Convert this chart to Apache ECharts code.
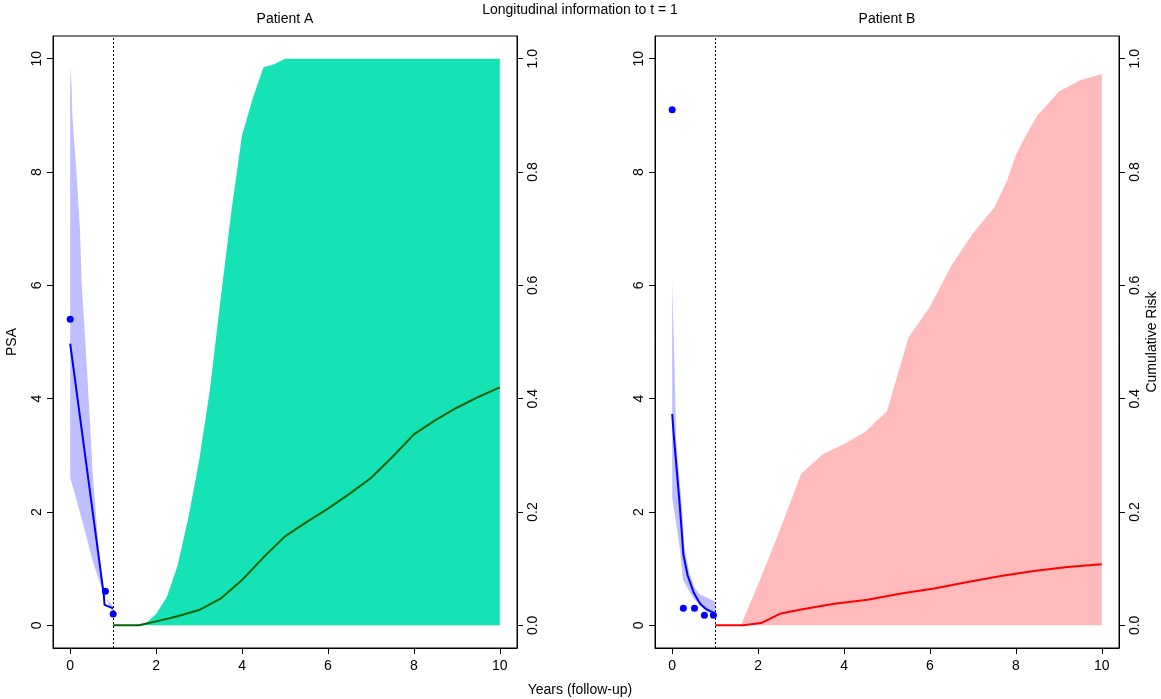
<!DOCTYPE html>
<html>
<head>
<meta charset="utf-8">
<script src="https://cdn.jsdelivr.net/npm/echarts@6/dist/echarts.min.js"></script>
<style>html,body{margin:0;padding:0;background:#fff}#c{width:1161px;height:699px}</style>
</head>
<body>
<div id="c"></div>
<script>
// ---------- Data ----------
const xTicks = [0, 2, 4, 6, 8, 10];
const psaTicks = [0, 2, 4, 6, 8, 10];
const riskTicks = [0, 0.2, 0.4, 0.6, 0.8, 1.0];

// Patient A – longitudinal (PSA)
const aObsT   = [0, 0.82, 1.0];
const aObsPSA = [5.4, 0.6, 0.2];
const aFitT   = [0, 0.39, 0.78, 0.8, 1.0];
const aFitPSA = [4.97, 2.76, 0.55, 0.36, 0.3];
const aUpT    = [0, 0.03, 0.05, 0.15, 0.23, 0.27, 0.36, 0.46, 0.52, 0.64, 0.75, 0.83, 1.0];
const aUpPSA  = [9.85, 9.57, 9.0, 7.95, 6.95, 6.0, 4.92, 3.58, 2.73, 1.56, 0.75, 0.48, 0.34];
const aLoT    = [0, 0.093, 0.29, 0.52, 0.75, 0.95, 1.0];
const aLoPSA  = [2.6, 2.36, 1.82, 1.15, 0.61, 0.28, 0.24];

// Patient A – cumulative risk
const aRiskT    = [1.0, 1.6, 2.0, 2.5, 3.0, 3.5, 4.0, 4.5, 5.0, 5.5, 6.0, 6.5, 7.0, 7.5, 8.0, 8.5, 9.0, 9.5, 10];
const aRisk     = [0, 0, 0.007, 0.016, 0.027, 0.047, 0.08, 0.12, 0.157, 0.182, 0.206, 0.232, 0.26, 0.297, 0.337, 0.362, 0.384, 0.403, 0.42];
const aRiskUpT  = [1.6, 1.8, 2.0, 2.25, 2.5, 2.75, 3.0, 3.25, 3.5, 3.75, 4.0, 4.25, 4.5, 4.75, 5.0, 10];
const aRiskUp   = [0, 0.006, 0.02, 0.05, 0.105, 0.19, 0.29, 0.415, 0.575, 0.73, 0.865, 0.93, 0.985, 0.99, 1.0, 1.0];
const aRiskLoT  = [1.6, 10];
const aRiskLo   = [0, 0];

// Patient B – longitudinal (PSA)
const bObsT   = [0, 0.26, 0.52, 0.75, 0.96];
const bObsPSA = [9.1, 0.3, 0.3, 0.18, 0.18];
const bFitT   = [0, 0.04, 0.09, 0.155, 0.21, 0.26, 0.36, 0.5, 0.65, 0.8, 1.0];
const bFitPSA = [3.73, 3.32, 2.88, 2.31, 1.78, 1.25, 0.88, 0.58, 0.38, 0.28, 0.21];
const bUpT    = [0, 0.016, 0.054, 0.093, 0.155, 0.23, 0.29, 0.4, 0.52, 0.64, 1.0];
const bUpPSA  = [6.07, 5.6, 4.6, 3.3, 2.7, 2.06, 1.35, 0.93, 0.67, 0.55, 0.42];
const bLoT    = [0, 0.093, 0.186, 0.25, 0.48, 0.71, 1.0];
const bLoPSA  = [2.25, 1.81, 1.3, 0.8, 0.49, 0.3, 0.14];

// Patient B – cumulative risk
const bRiskT    = [1.0, 1.65, 2.07, 2.53, 3.0, 3.77, 4.55, 5.33, 6.1, 6.88, 7.65, 8.42, 9.2, 10];
const bRisk     = [0, 0, 0.004, 0.021, 0.028, 0.038, 0.045, 0.056, 0.065, 0.0765, 0.087, 0.096, 0.103, 0.108];
const bRiskUpT  = [1.6, 2.0, 2.5, 3.0, 3.5, 4.0, 4.5, 5.0, 5.5, 6.0, 6.5, 7.0, 7.5, 7.8, 8.0, 8.2, 8.5, 8.75, 9.0, 9.5, 10];
const bRiskUp   = [0, 0.072, 0.167, 0.267, 0.302, 0.32, 0.342, 0.378, 0.508, 0.562, 0.635, 0.692, 0.738, 0.786, 0.83, 0.86, 0.9, 0.92, 0.942, 0.962, 0.973];
const bRiskLoT  = [1.6, 10];
const bRiskLo   = [0, 0];

const landmark = 1;

// ---------- Helpers ----------
const FONT = '"Liberation Sans", Arial, sans-serif';
const zip = (xs, ys) => xs.map((x, i) => [x, ys[i]]);

function band(xi, yi, upT, up, loT, lo, color) {
  const pts = zip(upT, up).concat(zip(loT, lo).reverse());
  return {
    type: 'custom', coordinateSystem: 'cartesian2d',
    xAxisIndex: xi, yAxisIndex: yi, silent: true, z: 1,
    data: [[0, 0]],
    renderItem: (params, api) => ({
      type: 'polygon',
      shape: { points: pts.map(p => api.coord(p)) },
      style: { fill: color, stroke: null }
    })
  };
}
function line(xi, yi, xs, ys, color, extra) {
  return Object.assign({
    type: 'line', xAxisIndex: xi, yAxisIndex: yi, data: zip(xs, ys),
    showSymbol: false, symbol: 'none', silent: true, z: 3,
    lineStyle: { color: color, width: 2 }
  }, extra || {});
}
function dots(xi, yi, xs, ys) {
  return {
    type: 'scatter', xAxisIndex: xi, yAxisIndex: yi, data: zip(xs, ys),
    symbolSize: 7, itemStyle: { color: '#0000FF', opacity: 1 }, silent: true, z: 4
  };
}
const markLand = {
  symbol: 'none', silent: true, label: { show: false },
  lineStyle: { type: [2, 2], color: '#000', width: 1 },
  data: [{ xAxis: landmark }]
};

function xAxis(gi) {
  return {
    type: 'value', gridIndex: gi, min: -0.4, max: 10.4,
    axisLine: { show: true, onZero: false, lineStyle: { color: '#000', width: 1 } },
    axisTick: { show: true, length: 6, customValues: xTicks, lineStyle: { color: '#000' } },
    axisLabel: { customValues: xTicks, color: '#000', fontSize: 14, fontFamily: FONT, margin: 11 },
    splitLine: { show: false }
  };
}
function yPSA(gi) {
  return {
    type: 'value', gridIndex: gi, position: 'left', min: -0.4, max: 10.4,
    axisLine: { show: true, onZero: false, lineStyle: { color: '#000', width: 1 } },
    axisTick: { show: true, length: 6, customValues: psaTicks, lineStyle: { color: '#000' } },
    axisLabel: { customValues: psaTicks, rotate: 90, color: '#000', fontSize: 14, fontFamily: FONT, margin: 9 },
    splitLine: { show: false }
  };
}
function yRisk(gi) {
  return {
    type: 'value', gridIndex: gi, position: 'right', min: -0.04, max: 1.04,
    axisLine: { show: true, onZero: false, lineStyle: { color: '#000', width: 1 } },
    axisTick: { show: true, length: 6, customValues: riskTicks, lineStyle: { color: '#000' } },
    axisLabel: { customValues: riskTicks, rotate: 90, color: '#000', fontSize: 14, fontFamily: FONT, margin: 9,
                 formatter: v => v.toFixed(1) },
    splitLine: { show: false }
  };
}

const txt = (text, x, y, rot, size) => ({
  type: 'text', x: x, y: y, rotation: rot || 0, silent: true,
  style: { text: text, fill: '#000', font: (size || 14) + 'px ' + FONT, align: 'center', verticalAlign: 'middle' }
});

const chart = echarts.init(document.getElementById('c'));
chart.setOption({
  animation: false,
  backgroundColor: '#fff',
  grid: [
    { left: 53, top: 36, width: 464, height: 612, show: true, borderColor: '#000', borderWidth: 1, containLabel: false },
    { left: 655, top: 36, width: 464, height: 612, show: true, borderColor: '#000', borderWidth: 1, containLabel: false }
  ],
  xAxis: [xAxis(0), xAxis(1)],
  yAxis: [yPSA(0), yRisk(0), yPSA(1), yRisk(1)],
  series: [
    // Patient A
    band(0, 0, aUpT, aUpPSA, aLoT, aLoPSA, '#BFBFFF'),
    band(0, 1, aRiskUpT, aRiskUp, aRiskLoT, aRiskLo, '#15E3B5'),
    line(0, 0, aFitT, aFitPSA, '#0000FF', { markLine: markLand }),
    line(0, 1, aRiskT, aRisk, '#006400'),
    dots(0, 0, aObsT, aObsPSA),
    // Patient B
    band(1, 2, bUpT, bUpPSA, bLoT, bLoPSA, '#BFBFFF'),
    band(1, 3, bRiskUpT, bRiskUp, bRiskLoT, bRiskLo, '#FFBBBB'),
    line(1, 2, bFitT, bFitPSA, '#0000FF', { markLine: markLand }),
    line(1, 3, bRiskT, bRisk, '#FF0000'),
    dots(1, 2, bObsT, bObsPSA)
  ],
  graphic: [
    txt('Longitudinal information to t = 1', 580, 10),
    txt('Patient A', 285, 19),
    txt('Patient B', 887, 19),
    txt('Years (follow-up)', 580, 690),
    txt('PSA', 12, 342, Math.PI / 2),
    txt('Cumulative Risk', 1152, 342, Math.PI / 2)
  ]
});
</script>
</body>
</html>
